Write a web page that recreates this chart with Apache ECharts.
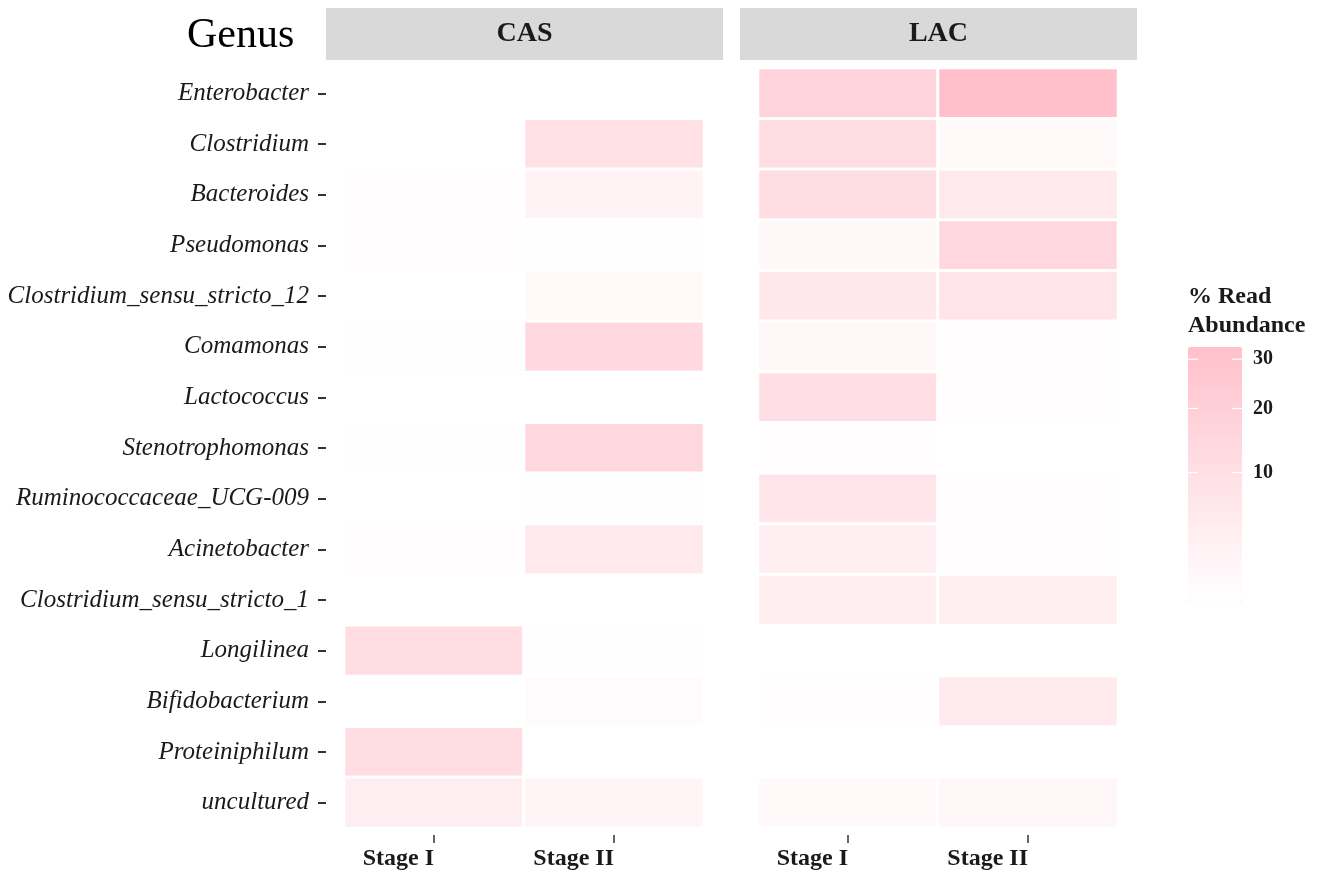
<!DOCTYPE html>
<html>
<head>
<meta charset="utf-8">
<script src="https://cdn.jsdelivr.net/npm/echarts@6/dist/echarts.min.js"></script>
<style>
  html, body { margin: 0; padding: 0; background: #ffffff; }
  #chart { width: 1324px; height: 875px; }
</style>
</head>
<body>
<div id="chart"></div>
<script>
// Genera, top to bottom
const genera = [
  'Enterobacter', 'Clostridium', 'Bacteroides', 'Pseudomonas',
  'Clostridium_sensu_stricto_12', 'Comamonas', 'Lactococcus',
  'Stenotrophomonas', 'Ruminococcaceae_UCG-009', 'Acinetobacter',
  'Clostridium_sensu_stricto_1', 'Longilinea', 'Bifidobacterium',
  'Proteiniphilum', 'uncultured'
];
const stages = ['Stage I', 'Stage II'];
const facets = ['CAS', 'LAC'];

// % read abundance per genus (null = not detected)
const casStageI  = [null, null, 0.5, 0.4, null, 0.3, null, 0.3, null, 0.4, null, 11.0, null, 11.0, 3.6];
const casStageII = [null, 9.5, 2.3, 0.3, 1.0, 13.5, null, 14.0, 0.3, 5.5, null, 0.3, 0.9, 0.25, 2.0];
const lacStageI  = [17.0, 11.0, 11.0, 1.2, 6.0, 1.5, 10.0, 0.4, 7.0, 3.8, 4.0, null, 0.5, null, 1.0];
const lacStageII = [32.8, 1.0, 5.5, 14.0, 7.5, 0.4, 0.5, null, 0.4, 0.5, 3.5, null, 5.0, null, 1.5];

const legendTicks = [10, 20, 30];

const SERIF = '"Liberation Serif", "Times New Roman", serif';

// colour is mapped on a square-root scale
const allVals = [].concat(casStageI, casStageII, lacStageI, lacStageII).filter(v => v != null);
const sMin = Math.sqrt(Math.min.apply(null, allVals));
const sMax = Math.sqrt(Math.max.apply(null, allVals));

function cells(stageI, stageII) {
  const out = [];
  [stageI, stageII].forEach((col, xi) => {
    col.forEach((v, yi) => {
      out.push(v == null ? [xi, yi, '-', '-'] : [xi, yi, v, Math.sqrt(v)]);
    });
  });
  return out;
}

// layout of the two facets
const panels = [
  { left: 344, strip: [326, 723] },
  { left: 758, strip: [740, 1137] }
];
const gridTop = 68, gridH = 760, gridW = 360;

// colour bar geometry
const barX = 1188, barTop = 347, barW = 54, barH = 256;
function barY(v) {
  return barTop + barH * (1 - (Math.sqrt(v) - sMin) / (sMax - sMin));
}

const graphics = [
  {
    type: 'text', left: 187, top: 15,
    style: { text: 'Genus', font: '42px ' + SERIF, fill: '#000' }
  },
  {
    type: 'text', left: 1188, top: 282,
    style: { text: '% Read\nAbundance', font: 'bold 24px ' + SERIF, fill: '#1a1a1a', lineHeight: 29 }
  }
];
panels.forEach((p, i) => {
  graphics.push({
    type: 'rect', z: 0,
    shape: { x: p.strip[0], y: 8, width: p.strip[1] - p.strip[0], height: 52 },
    style: { fill: '#d9d9d9' }
  });
  graphics.push({
    type: 'text', z: 1,
    x: (p.strip[0] + p.strip[1]) / 2, y: 34,
    style: { text: facets[i], font: 'bold 28px ' + SERIF, fill: '#1a1a1a', align: 'center', verticalAlign: 'middle' }
  });
});
legendTicks.forEach(t => {
  const y = barY(t);
  graphics.push({ type: 'line', z: 10, shape: { x1: barX, y1: y, x2: barX + 10, y2: y }, style: { stroke: '#ffffff', lineWidth: 1.2 } });
  graphics.push({ type: 'line', z: 10, shape: { x1: barX + barW - 10, y1: y, x2: barX + barW, y2: y }, style: { stroke: '#ffffff', lineWidth: 1.2 } });
  graphics.push({
    type: 'text', z: 10, x: barX + barW + 11, y: y,
    style: { text: String(t), font: 'bold 20px ' + SERIF, fill: '#1a1a1a', verticalAlign: 'middle' }
  });
});

const option = {
  backgroundColor: '#ffffff',
  animation: false,
  grid: panels.map(p => ({ left: p.left, top: gridTop, width: gridW, height: gridH, containLabel: false })),
  xAxis: panels.map((p, i) => ({
    type: 'category', gridIndex: i, data: stages, position: 'bottom', offset: 7,
    axisLine: { show: false },
    axisTick: { show: true, alignWithLabel: true, length: 8, lineStyle: { color: '#333', width: 1.5 } },
    axisLabel: { fontFamily: SERIF, fontWeight: 'bold', fontSize: 24, color: '#1a1a1a', align: 'right', margin: 12 },
    splitLine: { show: false }
  })),
  yAxis: panels.map((p, i) => ({
    type: 'category', gridIndex: i, data: genera, inverse: true, offset: 18,
    axisLine: { show: false },
    axisTick: { show: i === 0, alignWithLabel: true, length: 8, lineStyle: { color: '#333', width: 2 } },
    axisLabel: { show: i === 0, fontFamily: SERIF, fontStyle: 'italic', fontSize: 25, color: '#1a1a1a', margin: 17 },
    splitLine: { show: false }
  })),
  visualMap: {
    type: 'continuous', dimension: 3, seriesIndex: [0, 1],
    min: sMin, max: sMax,
    inRange: { color: ['#ffffff', '#ffc0cb'] },
    orient: 'vertical', calculable: false, text: ['', ''], showLabel: false,
    itemWidth: barW, itemHeight: barH,
    left: barX - 5, top: barTop - 5, padding: 5
  },
  series: [
    { type: 'heatmap', xAxisIndex: 0, yAxisIndex: 0, data: cells(casStageI, casStageII),
      itemStyle: { borderColor: '#ffffff', borderWidth: 3 }, emphasis: { disabled: true } },
    { type: 'heatmap', xAxisIndex: 1, yAxisIndex: 1, data: cells(lacStageI, lacStageII),
      itemStyle: { borderColor: '#ffffff', borderWidth: 3 }, emphasis: { disabled: true } }
  ],
  graphic: graphics
};

const chart = echarts.init(document.getElementById('chart'), null, { renderer: 'canvas' });
chart.setOption(option);
</script>
</body>
</html>
